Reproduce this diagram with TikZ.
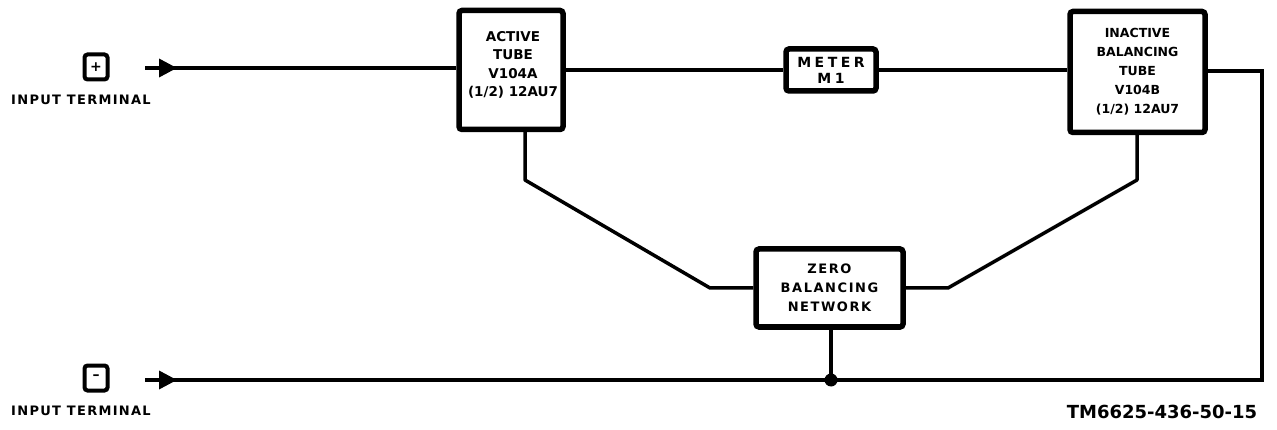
\documentclass[tikz,border=0pt]{standalone}
\usepackage{fontspec}
\setmainfont{DejaVu Sans}
\usetikzlibrary{arrows.meta}
\begin{document}
\begin{tikzpicture}[x=1pt,y=-1pt,
  blk/.style={draw,line width=5.5pt,rounded corners=3pt,align=center,inner sep=2pt,
    font=\fontsize{13}{18}\selectfont\bfseries},
  txt/.style={align=center,inner sep=0pt,font=\fontsize{13.5}{18.5}\selectfont\bfseries},
  term/.style={draw,line width=4pt,rounded corners=3pt,minimum width=23pt,minimum height=25pt,inner sep=0pt,
    font=\fontsize{14}{14}\selectfont\bfseries},
  wire/.style={line width=3.5pt},
  arr/.style={line width=3.5pt,-{Triangle[length=18pt,width=18pt]}},
  lbl/.style={font=\fontsize{13}{14}\selectfont\bfseries\addfontfeatures{LetterSpace=10},inner sep=0pt}]
\useasboundingbox (0,0) rectangle (1277,430);
% terminals
\node[term] (tp) at (96,67) {+};
\node[term] (tm) at (96,378) {\raisebox{1pt}{--}};
\node[lbl] (tpl) at (81,100) {INPUT TERMINAL};
\node[lbl] (tml) at (81,411) {INPUT TERMINAL};
% blocks
\node[blk,minimum width=104pt,minimum height=119pt] (act) at (511,70) {};
\node[txt] (actt) at (513,65) {ACTIVE\\TUBE\\V104A\\(1/2) 12AU7};
\node[blk,minimum width=90pt,minimum height=42pt,
  font=\fontsize{14}{16}\selectfont\bfseries\addfontfeatures{LetterSpace=25}] (met) at (831,70) {METER\\M1};
\node[blk,minimum width=135pt,minimum height=121pt,font=\fontsize{12.5}{19}\selectfont\bfseries] (ina) at (1137.5,72) {INACTIVE\\BALANCING\\TUBE\\V104B\\(1/2) 12AU7};
\node[blk,minimum width=147pt,minimum height=78pt,
  font=\fontsize{13}{19}\selectfont\bfseries\addfontfeatures{LetterSpace=12}] (zer) at (829.5,288) {ZERO\\BALANCING\\NETWORK};
\node[font=\fontsize{18}{20}\selectfont\bfseries,inner sep=0pt] (tmn) at (1162,412) {TM6625-436-50-15};
% coordinates
\coordinate (ps) at (145,68);
\coordinate (pa) at (177,68);
\coordinate (ms) at (145,380);
\coordinate (ma) at (177,380);
\coordinate (jn) at (831,380);
\coordinate (rc) at (1262,71);
\coordinate (rb) at (1262,380);
\coordinate (al) at (525,180);
\coordinate (ad) at (710,288);
\coordinate (il) at (1137,180);
\coordinate (id) at (948,288);
% wires
\draw[wire] (ps) -- (ps -| act.west);
\draw[arr] (ps) -- (pa);
\draw[wire] (ms) -- (jn) -- (rb) -- (rc) -- (rc -| ina.east);
\draw[arr] (ms) -- (ma);
\draw[wire] (act.east |- met.west) -- (met.west);
\draw[wire] (met.east) -- (met.east -| ina.west);
\draw[wire,line join=round] (act.south -| al) -- (al) -- (ad) -- (ad -| zer.west);
\draw[wire,line join=round] (ina.south -| il) -- (il) -- (id) -- (id -| zer.east);
\draw[wire] (zer.south -| jn) -- (jn);
\fill (jn) circle (6.5pt);
\end{tikzpicture}
\end{document}
